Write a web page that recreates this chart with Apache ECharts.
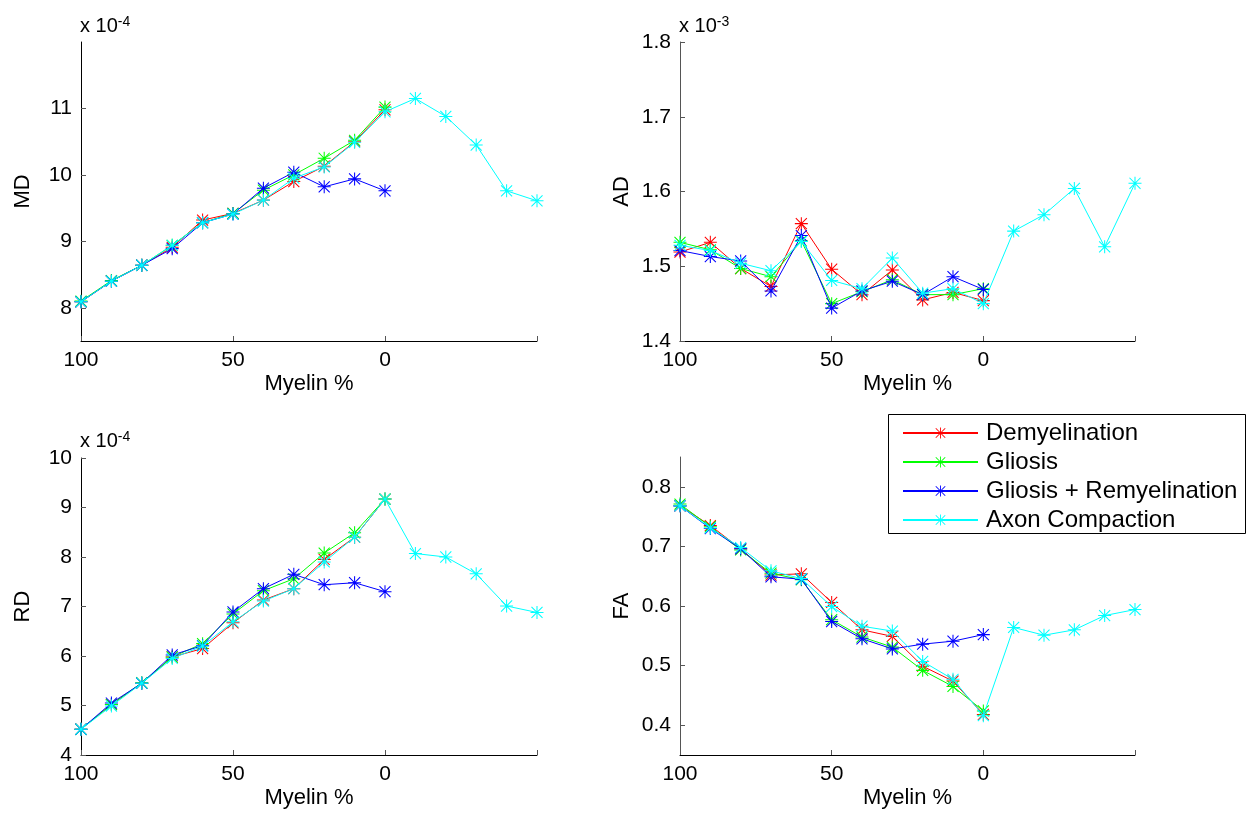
<!DOCTYPE html>
<html>
<head>
<meta charset="utf-8">
<script src="https://cdn.jsdelivr.net/npm/echarts@6/dist/echarts.min.js"></script>
<style>
html,body{margin:0;padding:0;background:#fff;}
#c{width:1247px;height:814px;}
</style>
</head>
<body>
<div id="c"></div>
<script>
// ---- categories (Myelin %) ----
var xMain = [100, 90, 80, 70, 60, 50, 40, 30, 20, 10, 0];
var xAxon = [100, 90, 80, 70, 60, 50, 40, 30, 20, 10, 0, -10, -20, -30, -40, -50];
var seriesNames = ['Demyelination', 'Gliosis', 'Gliosis + Remyelination', 'Axon Compaction'];

// ---- MD (x 10^-4) ----
var mdDemyelination = [8.09, 8.40, 8.64, 8.91, 9.32, 9.42, 9.62, 9.90, 10.13, 10.50, 10.98];
var mdGliosis       = [8.10, 8.41, 8.64, 8.94, 9.28, 9.42, 9.77, 10.00, 10.25, 10.52, 11.02];
var mdRemyelination = [8.09, 8.40, 8.64, 8.89, 9.28, 9.41, 9.80, 10.04, 9.82, 9.94, 9.76];
var mdAxon          = [8.09, 8.40, 8.64, 8.94, 9.28, 9.41, 9.62, 9.95, 10.12, 10.49, 10.95, 11.15, 10.88, 10.45, 9.76, 9.61];

// ---- AD (x 10^-3) ----
var adDemyelination = [1.519, 1.532, 1.497, 1.473, 1.557, 1.496, 1.462, 1.495, 1.455, 1.465, 1.454];
var adGliosis       = [1.532, 1.522, 1.497, 1.486, 1.534, 1.450, 1.466, 1.482, 1.462, 1.462, 1.470];
var adRemyelination = [1.521, 1.513, 1.507, 1.467, 1.541, 1.444, 1.467, 1.480, 1.462, 1.486, 1.469];
var adAxon          = [1.528, 1.521, 1.504, 1.494, 1.533, 1.481, 1.470, 1.511, 1.464, 1.470, 1.450, 1.547, 1.569, 1.604, 1.526, 1.611];

// ---- RD (x 10^-4) ----
var rdDemyelination = [4.52, 5.02, 5.45, 5.98, 6.15, 6.67, 7.13, 7.36, 7.95, 8.40, 9.17];
var rdGliosis       = [4.52, 5.02, 5.46, 5.98, 6.25, 6.85, 7.32, 7.56, 8.08, 8.49, 9.17];
var rdRemyelination = [4.52, 5.05, 5.45, 6.02, 6.21, 6.89, 7.36, 7.65, 7.44, 7.48, 7.30];
var rdAxon          = [4.52, 4.99, 5.45, 5.95, 6.20, 6.69, 7.11, 7.36, 7.90, 8.40, 9.17, 8.07, 8.00, 7.66, 7.01, 6.88];

// ---- FA ----
var faDemyelination = [0.768, 0.735, 0.696, 0.652, 0.654, 0.606, 0.560, 0.549, 0.499, 0.474, 0.418];
var faGliosis       = [0.771, 0.733, 0.694, 0.655, 0.644, 0.577, 0.548, 0.531, 0.492, 0.465, 0.424];
var faRemyelination = [0.768, 0.730, 0.696, 0.649, 0.645, 0.574, 0.545, 0.528, 0.536, 0.541, 0.552];
var faAxon          = [0.768, 0.731, 0.698, 0.659, 0.646, 0.599, 0.566, 0.558, 0.507, 0.477, 0.416, 0.564, 0.551, 0.560, 0.584, 0.594];

// ---- axis tick labels ----
var mdTicks = [8, 9, 10, 11];
var adTicks = [1.4, 1.5, 1.6, 1.7, 1.8];
var rdTicks = [4, 5, 6, 7, 8, 9, 10];
var faTicks = [0.4, 0.5, 0.6, 0.7, 0.8];
var xTicks = [100, 50, 0, -50];

var colors = ['#ff0000', '#00ff00', '#0000ff', '#00ffff'];
var FONT = '"Liberation Sans", Arial, sans-serif';
var STAR = 'path://M0 9.2H20V10.8H0Z M9.2 0H10.8V20H9.2Z M2.07 0.93L19.07 17.93L17.93 19.07L0.93 2.07Z M17.93 0.93L19.07 2.07L2.07 19.07L0.93 17.93Z';

var grids = [
  {left: 81, top: 42, width: 456, height: 299},
  {left: 680, top: 42, width: 455, height: 299},
  {left: 81, top: 458, width: 456, height: 297},
  {left: 680, top: 457, width: 455, height: 298}
];

var panels = [
  {name: 'MD', min: 7.5, max: 12, ticks: mdTicks, data: [mdDemyelination, mdGliosis, mdRemyelination, mdAxon], axisColor: '#000', fmt: function (v) { return String(v); }},
  {name: 'AD', min: 1.4, max: 1.8, ticks: adTicks, data: [adDemyelination, adGliosis, adRemyelination, adAxon], axisColor: '#555', fmt: function (v) { return v.toFixed(1); }},
  {name: 'RD', min: 4, max: 10, ticks: rdTicks, data: [rdDemyelination, rdGliosis, rdRemyelination, rdAxon], axisColor: '#000', fmt: function (v) { return String(v); }},
  {name: 'FA', min: 0.35, max: 0.85, ticks: faTicks, data: [faDemyelination, faGliosis, faRemyelination, faAxon], axisColor: '#555', fmt: function (v) { return v.toFixed(1); }}
];

var xAxes = [], yAxes = [], series = [];
panels.forEach(function (p, i) {
  xAxes.push({
    type: 'value', gridIndex: i, inverse: true, min: -50, max: 100,
    axisLine: {show: true, onZero: false, lineStyle: {color: '#000', width: 1}},
    axisTick: {show: true, inside: true, length: 5, customValues: xTicks, lineStyle: {color: '#555'}},
    axisLabel: {customValues: xTicks, margin: 9, fontFamily: FONT, fontSize: 21, color: '#000',
      formatter: function (v) { return v < 0 ? '' : String(v); }},
    splitLine: {show: false},
    name: 'Myelin %', nameLocation: 'middle', nameGap: 32,
    nameTextStyle: {fontFamily: FONT, fontSize: 22, color: '#000'}
  });
  yAxes.push({
    type: 'value', gridIndex: i, min: p.min, max: p.max,
    axisLine: {show: true, onZero: false, lineStyle: {color: p.axisColor, width: 1}},
    axisTick: {show: true, inside: true, length: 5, customValues: p.ticks, lineStyle: {color: '#555'}},
    axisLabel: {customValues: p.ticks, margin: 9, fontFamily: FONT, fontSize: 21, color: '#000', formatter: p.fmt},
    splitLine: {show: false},
    name: p.name, nameLocation: 'middle', nameGap: 47, nameRotate: 90,
    nameTextStyle: {fontFamily: FONT, fontSize: 22, color: '#000'}
  });
  p.data.forEach(function (arr, k) {
    var xs = (k === 3) ? xAxon : xMain;
    series.push({
      type: 'line', name: seriesNames[k], xAxisIndex: i, yAxisIndex: i,
      data: arr.map(function (v, j) { return [xs[j], v]; }),
      symbol: STAR, symbolSize: 13, showSymbol: true, clip: false,
      lineStyle: {color: colors[k], width: 1},
      itemStyle: {color: colors[k]},
      emphasis: {disabled: true},
      z: 2 + k
    });
  });
});

function expText(x, y, exp) {
  return {
    type: 'text', left: x, top: y, silent: true,
    style: {
      text: '{b|x 10}{s|' + exp + '}',
      rich: {
        b: {fontFamily: FONT, fontSize: 20, fill: '#000'},
        s: {fontFamily: FONT, fontSize: 14, fill: '#000', padding: [0, 0, 9, 0]}
      }
    }
  };
}

var option = {
  backgroundColor: '#ffffff',
  animation: false,
  grid: grids,
  xAxis: xAxes,
  yAxis: yAxes,
  series: series,
  legend: {
    data: seriesNames, orient: 'vertical', left: 902, top: 421,
    itemWidth: 75, itemHeight: 14, itemGap: 5, padding: 0,
    selectedMode: false,
    textStyle: {fontFamily: FONT, fontSize: 24, color: '#000', lineHeight: 23.5, padding: [0, 0, 0, 3]},
    z: 10
  },
  graphic: [
    {type: 'rect', shape: {x: 888.5, y: 414.5, width: 357, height: 119},
      style: {fill: '#fff', stroke: '#000', lineWidth: 1}, z: 1, silent: true},
    expText(80, 15, '-4'),
    expText(679, 15, '-3'),
    expText(80, 430, '-4')
  ]
};

var chart = echarts.init(document.getElementById('c'), null, {renderer: 'canvas'});
chart.setOption(option);
</script>
</body>
</html>
